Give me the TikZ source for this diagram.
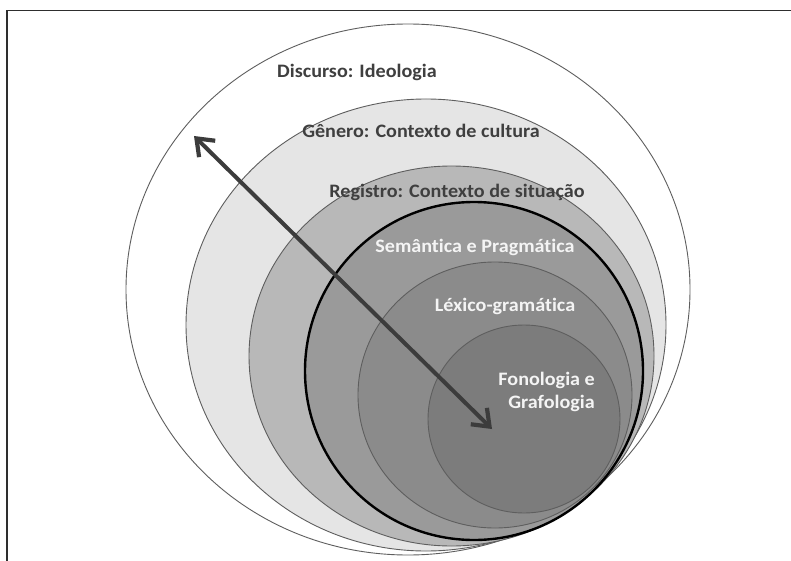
\documentclass[tikz,border=0pt]{standalone}
\usepackage{fontspec}
\setmainfont{Carlito}[Ligatures=NoCommon]
\usetikzlibrary{arrows.meta}
\definecolor{ringline}{HTML}{5E5E5E}
\definecolor{framecol}{HTML}{2E2E2E}
\definecolor{darktext}{HTML}{3F3F3F}
\definecolor{lighttext}{HTML}{F4F4F4}
\definecolor{fillB}{HTML}{E5E5E5}
\definecolor{fillC}{HTML}{B8B8B8}
\definecolor{fillD}{HTML}{9A9A9A}
\definecolor{fillE}{HTML}{8B8B8B}
\definecolor{fillF}{HTML}{7C7C7C}
\definecolor{arrowcol}{HTML}{3C3C3C}
\begin{document}
\begin{tikzpicture}[x=1pt,y=-1pt,
  ring/.style={draw=ringline, line width=0.9pt},
  boldring/.style={draw=black, line width=2.4pt},
  framestyle/.style={draw=framecol, line width=1.6pt},
  lbl/.style={font=\bfseries\fontsize{19}{21}\selectfont, inner sep=0pt, xscale=1.06, transform shape},
  darklbl/.style={lbl, text=darktext},
  lightlbl/.style={lbl, text=lighttext},
  bigarrow/.style={draw=arrowcol, line width=4pt,
    {Straight Barb[length=15pt,width=23pt,line width=4.2pt]}-{Straight Barb[length=15pt,width=23pt,line width=4.2pt]}}
]
\useasboundingbox (0,0) rectangle (791,561);
\fill[white] (0,0) rectangle (791,561);
\draw[framestyle] (7,562) -- (7,10.5) -- (792,10.5);

% rings
\filldraw[ring, fill=white] (408,289.5) ellipse [x radius=282, y radius=265.5];
\filldraw[ring, fill=fillB] (426,325) ellipse [x radius=240, y radius=226];
\filldraw[ring, fill=fillC] (451.5,356) ellipse [x radius=202.5, y radius=190];
\filldraw[boldring, fill=fillD] (474,371) ellipse [x radius=169, y radius=169];
\filldraw[ring, fill=fillE] (495,395) ellipse [x radius=137, y radius=133];
\filldraw[ring, fill=fillF] (524,419) ellipse [x radius=96, y radius=94];

% labels
\node[darklbl] (discurso) at (357,72) {Discurso: Ideologia};
\node[darklbl] (genero) at (421,131) {Gênero: Contexto de cultura};
\node[darklbl] (registro) at (457,192) {Registro: Contexto de situação};
\node[lightlbl] (semantica) at (475,247) {Semântica e Pragmática};
\node[lightlbl] (lexico) at (505,306) {Léxico-gramática};
\node[lightlbl, align=right, anchor=east] (fonologia) at (595,392) {Fonologia e\\[2pt]Grafologia};

% arrow
\coordinate (outerend) at (194,136);
\coordinate (innerend) at (492,429);
\draw[bigarrow] (outerend) -- (innerend);
\end{tikzpicture}
\end{document}
